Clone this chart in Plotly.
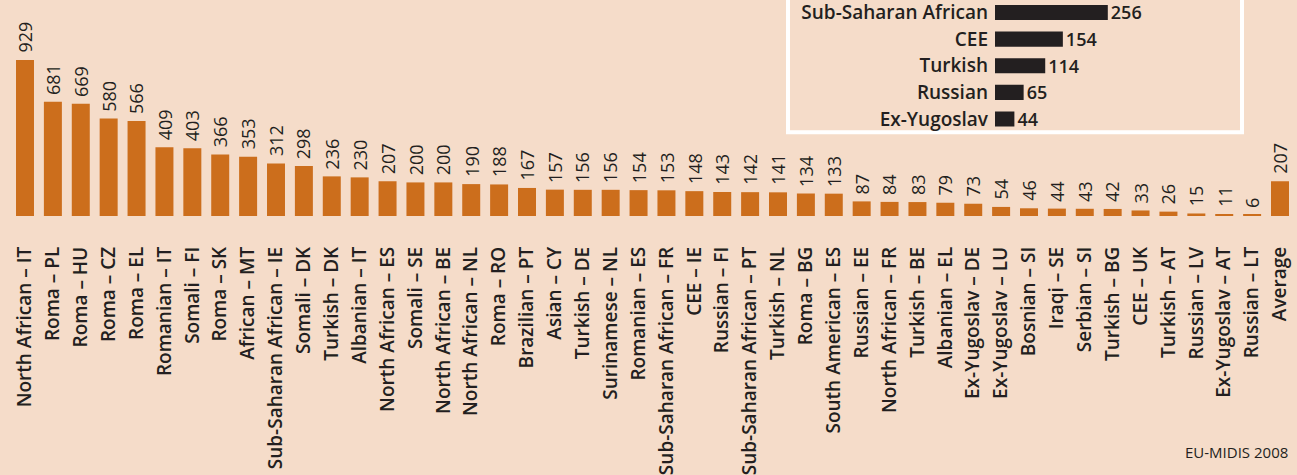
import plotly.graph_objects as go

# main chart data
groups = [
    "North African – IT", "Roma – PL", "Roma – HU", "Roma – CZ", "Roma – EL",
    "Romanian – IT", "Somali – FI", "Roma – SK", "African – MT",
    "Sub-Saharan African – IE", "Somali – DK", "Turkish – DK", "Albanian – IT",
    "North African – ES", "Somali – SE", "North African – BE", "North African – NL",
    "Roma – RO", "Brazilian – PT", "Asian – CY", "Turkish – DE", "Surinamese – NL",
    "Romanian – ES", "Sub-Saharan African – FR", "CEE – IE", "Russian – FI",
    "Sub-Saharan African – PT", "Turkish – NL", "Roma – BG", "South American – ES",
    "Russian – EE", "North African – FR", "Turkish – BE", "Albanian – EL",
    "Ex-Yugoslav – DE", "Ex-Yugoslav – LU", "Bosnian – SI", "Iraqi – SE",
    "Serbian – SI", "Turkish – BG", "CEE – UK", "Turkish – AT", "Russian – LV",
    "Ex-Yugoslav – AT", "Russian – LT", "Average",
]
values = [
    929, 681, 669, 580, 566, 409, 403, 366, 353, 312, 298, 236, 230, 207, 200,
    200, 190, 188, 167, 157, 156, 156, 154, 153, 148, 143, 142, 141, 134, 133,
    87, 84, 83, 79, 73, 54, 46, 44, 43, 42, 33, 26, 15, 11, 6, 207,
]

# inset chart data
inset_groups = ["Sub-Saharan African", "CEE", "Turkish", "Russian", "Ex-Yugoslav"]
inset_values = [256, 154, 114, 65, 44]

BG = "#F5DCC9"
ORANGE = "#CC6E1C"
DARK = "#231F20"
FONT = "Open Sans"

W, H = 1297, 475
L, R, T, B = 11, 3, 0, 250


def px_x(p):
    return (p - L) / (W - L - R)


def px_y(p):
    return (H - B - p) / (H - T - B)


fig = go.Figure()

fig.add_trace(
    go.Bar(
        x=groups,
        y=values,
        marker=dict(color=ORANGE, line=dict(width=0)),
        width=0.645,
        hoverinfo="skip",
        xaxis="x",
        yaxis="y",
    )
)

fig.add_trace(
    go.Bar(
        x=inset_values,
        y=inset_groups,
        orientation="h",
        marker=dict(color=DARK, line=dict(width=0)),
        width=0.57,
        text=[str(v) for v in inset_values],
        textposition="outside",
        constraintext="none",
        textfont=dict(family=FONT, size=18, color=DARK, weight=600),
        cliponaxis=False,
        hoverinfo="skip",
        xaxis="x2",
        yaxis="y2",
    )
)

# value labels above bars
annotations = [
    dict(
        x=g, y=v, xref="x", yref="y",
        text=str(v), showarrow=False, textangle=-90,
        xanchor="center", yanchor="bottom", yshift=5,
        font=dict(family=FONT, size=18, color=DARK, weight=500),
    )
    for g, v in zip(groups, values)
]

annotations.append(
    dict(
        x=1, y=px_y(461), xref="paper", yref="paper",
        text="EU-MIDIS 2008", showarrow=False,
        xanchor="right", yanchor="top", xshift=-4,
        font=dict(family=FONT, size=15, color=DARK),
    )
)

fig.update_layout(
    width=W,
    height=H,
    margin=dict(l=L, r=R, t=T, b=B, pad=0),
    paper_bgcolor=BG,
    plot_bgcolor="rgba(0,0,0,0)",
    showlegend=False,
    hovermode=False,
    annotations=annotations,
    xaxis=dict(
        type="category",
        domain=[0, 1],
        showgrid=False,
        zeroline=False,
        showline=False,
        ticks="",
        tickangle=-90,
        ticklabelstandoff=26,
        tickfont=dict(family=FONT, size=19, color=DARK, weight=600),
    ),
    yaxis=dict(
        range=[0, 1274.6],
        visible=False,
    ),
    xaxis2=dict(
        domain=[px_x(995), px_x(1240)],
        range=[0, 556],
        anchor="y2",
        visible=False,
    ),
    yaxis2=dict(
        type="category",
        domain=[px_y(137), 1],
        range=[4.5, -0.393],
        anchor="x2",
        showgrid=False,
        zeroline=False,
        showline=False,
        ticks="",
        ticklabelstandoff=6,
        tickfont=dict(family=FONT, size=19, color=DARK, weight=600),
    ),
    shapes=[
        dict(
            type="rect", xref="paper", yref="paper",
            x0=px_x(788), x1=px_x(1242), y0=px_y(137), y1=px_y(-20),
            line=dict(color="white", width=4),
            fillcolor="rgba(0,0,0,0)",
            layer="below",
        )
    ],
)

fig.write_html(
    "out.html",
    config={"displayModeBar": False},
    post_script="document.body.style.margin='0';document.body.style.background='%s';" % BG,
)
